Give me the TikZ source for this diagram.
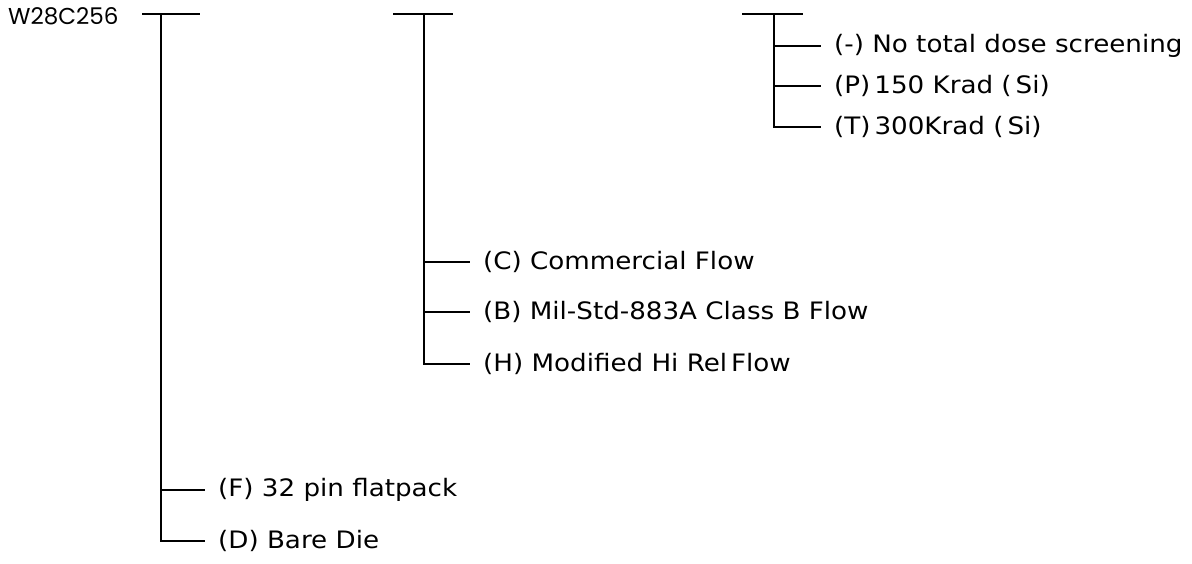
\documentclass[tikz,border=0pt]{standalone}
\usepackage{fontspec}
\setmainfont{DejaVu Sans}[FakeStretch=1.09]
\newfontfamily\partfont{Poppins}
\usetikzlibrary{positioning}

\begin{document}
\begin{tikzpicture}[
    x=1pt, y=-1pt,
    tree/.style={line width=1.5pt},
    part/.style={anchor=west, inner sep=0pt, font=\partfont\fontsize{23}{27}\selectfont},
    opt/.style={anchor=west, inner xsep=13pt, inner ysep=0pt, font=\fontsize{24}{28}\selectfont}
]
    \useasboundingbox (0,0) rectangle (1192,563);

    % part number
    \node[part] (pn) at (8,16) {W28C256};

    % tops of the three columns
    \coordinate (pkg) at (161,14);
    \coordinate (flow) at (424,14);
    \coordinate (rad) at (774,14);
    \draw[tree] (142,14) -- (200,14);
    \draw[tree] (393,14) -- (453,14);
    \draw[tree] (742,14) -- (803,14);

    % total dose options
    \node[opt] (dose1) at (821,46) {(-) No total dose screening};
    \node[opt] (dose2) at (821,86) {(P)\,150 Krad (\,Si)};
    \node[opt] (dose3) at (821,127) {(T)\,300Krad (\,Si)};

    % screening flow options
    \node[opt] (flow1) at (470,262) {(C) Commercial Flow};
    \node[opt] (flow2) at (470,312) {(B) Mil-Std-883A Class B Flow};
    \node[opt] (flow3) at (470,364) {(H) Modified Hi Rel\,Flow};

    % package options
    \node[opt] (pkg1) at (205,490) {(F) 32 pin flatpack};
    \node[opt] (pkg2) at (205,541) {(D) Bare Die};

    % branches
    \draw[tree] (rad) |- (dose3.west);
    \draw[tree] (rad |- dose1.west) -- (dose1.west);
    \draw[tree] (rad |- dose2.west) -- (dose2.west);

    \draw[tree] (flow) |- (flow3.west);
    \draw[tree] (flow |- flow1.west) -- (flow1.west);
    \draw[tree] (flow |- flow2.west) -- (flow2.west);

    \draw[tree] (pkg) |- (pkg2.west);
    \draw[tree] (pkg |- pkg1.west) -- (pkg1.west);
\end{tikzpicture}
\end{document}
